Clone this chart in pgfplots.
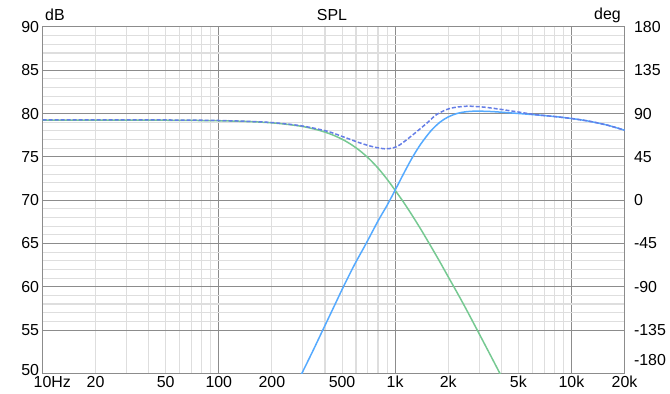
\documentclass[border=0pt]{standalone}
\usepackage{pgfplots}
\pgfplotsset{compat=1.18}
\usepackage{fontspec}
\setmainfont{Liberation Sans}
\definecolor{lpgreen}{RGB}{118,201,146}
\definecolor{hpblue}{RGB}{85,170,255}
\definecolor{sumblue}{RGB}{100,125,230}
\definecolor{majgrid}{RGB}{140,140,140}
\definecolor{mingrid}{RGB}{222,222,222}
\newcommand{\lblfont}{\fontsize{16}{16}\selectfont}
\begin{document}
\begin{tikzpicture}
\useasboundingbox (0,0) rectangle (670bp,394bp);
\begin{axis}[
  at={(42.5bp,20.7bp)}, anchor=south west,
  scale only axis, width=582bp, height=346.3bp,
  xmode=log, xmin=10, xmax=20000, ymin=50, ymax=90,
  xtick={10,100,1000,10000},
  xticklabels={10\rlap{Hz},100,1k,10k},
  extra x ticks={20,50,200,500,2000,5000,20000},
  extra x tick labels={20,50,200,500,2k,5k,20k},
  extra x tick style={grid=none},
  minor xtick={20,30,40,50,60,70,80,90,200,300,400,500,600,700,800,900,2000,3000,4000,5000,6000,7000,8000,9000},
  ytick={55,60,...,90},
  yticklabels={55,60,65,70,75,80,85,90},
  extra y ticks={50},
  extra y tick labels={50},
  extra y tick style={yticklabel style={yshift=3.5bp}},
  minor y tick num=4,
  grid=both,
  major grid style={draw=majgrid, line width=1bp},
  minor grid style={draw=mingrid, line width=1.1bp},
  axis line style={draw=majgrid, line width=1bp},
  major tick length=0pt, minor tick length=0pt,
  tick label style={font=\lblfont},
  xticklabel style={yshift=0.5bp},
  clip=true,
]
\addplot[lpgreen, line width=1.5bp, smooth] coordinates {
(10,79.25)(20,79.25)(50,79.23)(100,79.17)(150,79.07)(200,78.93)(250,78.73)(300,78.5)(350,78.2)(400,77.86)(450,77.47)(500,77.04)(560,76.46)(630,75.72)(710,74.8)(800,73.7)(900,72.42)(1000,71.14)(1120,69.72)(1250,68.23)(1400,66.62)(1600,64.62)(1800,62.82)(2000,61.15)(2250,59.3)(2500,57.6)(2800,55.71)(3150,53.73)(3550,51.71)(4000,49.68)(4300,48.44)
};
\addplot[hpblue, line width=1.5bp, smooth] coordinates {
(280,49.0)(296,50.0)(340,52.5)(389,55.0)(445,57.5)(509,60.0)(590,62.6)(685,65.0)(800,67.6)(900,69.4)(1000,71.15)(1120,73.1)(1250,74.9)(1400,76.5)(1600,78.03)(1800,79.02)(2000,79.61)(2250,80.02)(2500,80.2)(2800,80.28)(3150,80.27)(3550,80.23)(4000,80.16)(5000,80.01)(6300,79.85)(8000,79.66)(10000,79.43)(12500,79.13)(16000,78.66)(20000,78.08)
};
\addplot[sumblue, line width=1.5bp, smooth, dash pattern=on 4bp off 2bp] coordinates {
(10,79.28)(50,79.26)(100,79.2)(188,79.0)(290,78.6)(410,77.97)(510,77.3)(634,76.6)(754,76.15)(877,75.93)(977,76.05)(1066,76.4)(1270,77.6)(1514,78.9)(1723,79.9)(2049,80.6)(2548,80.85)(3165,80.75)(3934,80.5)(5107,80.15)(6300,79.87)(8000,79.66)(10000,79.43)(12500,79.13)(16000,78.66)(20000,78.08)
};
\end{axis}
\begin{axis}[
  at={(42.5bp,20.7bp)}, anchor=south west,
  scale only axis, width=582bp, height=346.3bp,
  xmode=log, xmin=10, xmax=20000,
  ymin=-180, ymax=180,
  axis x line=none,
  axis y line*=right,
  y axis line style={draw=none},
  ytick={-135,-90,-45,0,45,90,135,180},
  yticklabels={-135,-90,-45,0,45,90,135,180},
  extra y ticks={-180},
  extra y tick labels={-180},
  extra y tick style={yticklabel style={yshift=13bp}},
  major tick length=0pt,
  tick label style={font=\lblfont},
  yticklabel style={xshift=6bp},
]
\end{axis}
\node[anchor=base, font=\lblfont] at (332bp,373.5bp) {SPL};
\node[anchor=base west, font=\lblfont, inner sep=0pt] at (45bp,373.5bp) {dB};
\node[anchor=base east, font=\lblfont, inner sep=0pt] at (621bp,374bp) {deg};
\end{tikzpicture}
\end{document}
